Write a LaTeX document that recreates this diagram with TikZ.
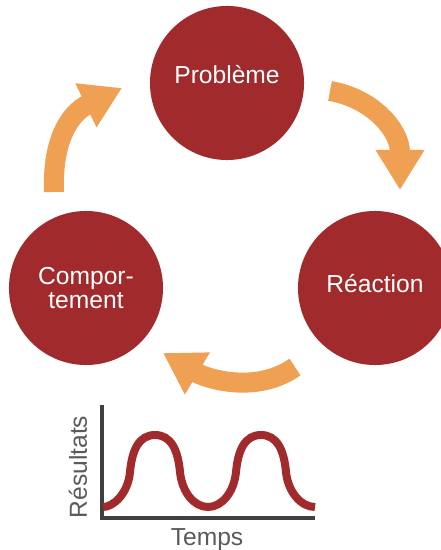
\documentclass[tikz,border=0pt]{standalone}
\usepackage{fontspec}
\setmainfont{Liberation Sans}
\usetikzlibrary{arrows.meta}
\definecolor{bubblered}{HTML}{A02A2C}
\definecolor{looporange}{HTML}{EFA052}
\definecolor{axisgray}{HTML}{404040}
\definecolor{labelgray}{HTML}{5A5A5A}
\tikzset{
  bubble/.style={circle, fill=bubblered, minimum size=3.85cm, inner sep=0pt},
  bubbletext/.style={text=white, font=\fontsize{17.5}{16.5}\selectfont, align=center, inner sep=0pt},
  cyclearrow/.style={looporange, line width=0.5cm, -{Triangle[length=1cm,width=1.15cm]}},
  axisline/.style={axisgray, line width=0.1cm},
  wave/.style={bubblered, line width=0.2cm},
  axislabel/.style={text=labelgray, font=\fontsize{17.5}{20}\selectfont, inner sep=0pt}
}

\begin{document}
\begin{tikzpicture}[x=0.025cm, y=-0.025cm]
  \useasboundingbox (0, 0) rectangle (440, 550);
  % nodes
	\node [bubble, label={[bubbletext,yshift=6pt]center:Problème}] (0) at (227, 83) {};
	\node [bubble, label={[bubbletext,yshift=3pt]center:Réaction}] (1) at (375, 288) {};
	\node [bubble, label={[bubbletext]center:Compor-\\tement}] (2) at (86, 288) {};
	%% arrow ends
	\coordinate (3) at (54, 192);
	\coordinate (4) at (122, 88);
	\coordinate (5) at (330, 91);
	\coordinate (6) at (400, 190);
	\coordinate (7) at (295, 367);
	\coordinate (8) at (163, 353);
	%% graph
	\coordinate (9) at (102, 405);
	\coordinate (10) at (315, 518);
	\node [axislabel, rotate=90] (11) at (78, 467) {Résultats};
	\node [axislabel] (12) at (207, 540) {Temps};
	% edges
	\draw [cyclearrow] (3) .. controls (52, 140) and (70, 113) .. (4);
	\draw [cyclearrow] (5) .. controls (372, 98) and (400, 130) .. (6);
	\draw [cyclearrow] (7) .. controls (255, 395) and (205, 378) .. (8);
	% graph
	\draw [axisline] (9) |- (10);
	\draw [wave] (103, 507) .. controls (113, 507) and (128, 494) .. (130, 472)
	  .. controls (132, 450) and (139, 435) .. (155, 435)
	  .. controls (171, 435) and (178, 450) .. (180, 472)
	  .. controls (182, 492) and (194, 507) .. (208, 507)
	  .. controls (222, 507) and (234, 492) .. (236, 472)
	  .. controls (238, 450) and (245, 435) .. (261, 435)
	  .. controls (277, 435) and (284, 450) .. (286, 472)
	  .. controls (288, 492) and (301, 507) .. (315, 507);
\end{tikzpicture}
\end{document}
